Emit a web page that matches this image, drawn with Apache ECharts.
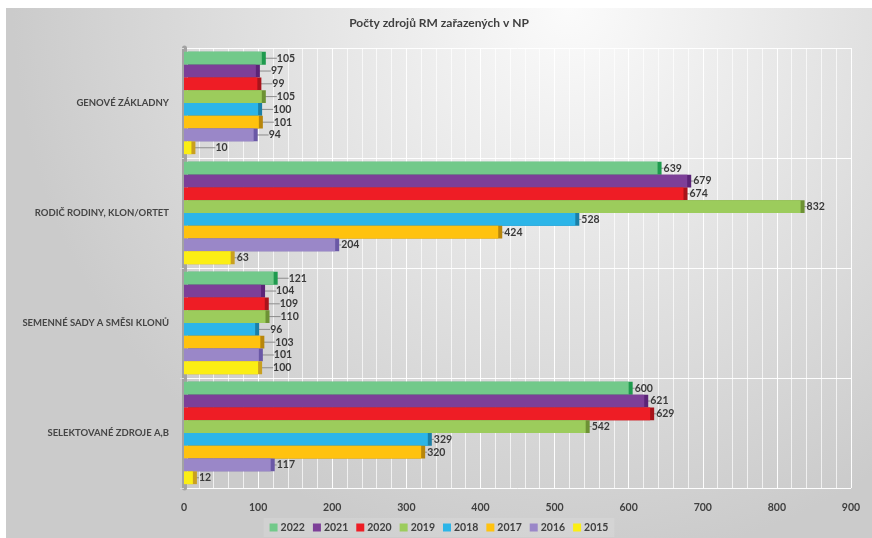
<!DOCTYPE html>
<html>
<head>
<meta charset="utf-8">
<script src="https://cdn.jsdelivr.net/npm/echarts@6/dist/echarts.min.js"></script>
<style>
  html, body { margin: 0; padding: 0; background: #ffffff; overflow: hidden; }
  #chart { position: absolute; left: 6px; top: 8px; width: 866px; height: 530px; }
</style>
</head>
<body>
<div id="chart"></div>
<script>
// Categories (top to bottom)
const categories = [
  'GENOVÉ ZÁKLADNY',
  'RODIČ RODINY, KLON/ORTET',
  'SEMENNÉ SADY A SMĚSI KLONŮ',
  'SELEKTOVANÉ ZDROJE A,B'
];

// Years, drawn top to bottom inside each group
const years = ['2022', '2021', '2020', '2019', '2018', '2017', '2016', '2015'];

// Counts per year, in category order
const v2022 = [105, 639, 121, 600];
const v2021 = [97, 679, 104, 621];
const v2020 = [99, 674, 109, 629];
const v2019 = [105, 832, 110, 542];
const v2018 = [100, 528, 96, 329];
const v2017 = [101, 424, 103, 320];
const v2016 = [94, 204, 101, 117];
const v2015 = [10, 63, 100, 12];

const xTicks = [0, 100, 200, 300, 400, 500, 600, 700, 800, 900];

const seriesValues = [v2022, v2021, v2020, v2019, v2018, v2017, v2016, v2015];

const fills = ['#72c98a', '#7d3f98', '#ee1d25', '#9ccc5c', '#2cb5e8', '#ffc20f', '#9a87c8', '#fbee14'];
const sides = ['#1f9a4e', '#5b2477', '#a8141b', '#6d9234', '#1b7fa6', '#b8860b', '#6a58a6', '#c9a020'];

const chart = echarts.init(document.getElementById('chart'), null, { renderer: 'canvas' });

const series = years.map((y, i) => ({
  name: y,
  type: 'bar',
  data: seriesValues[i],
  barGap: '0%',
  barCategoryGap: '7%',
  itemStyle: {
    color: fills[i],
    borderWidth: 0,
    // darker strip on the right end gives the bars a bit of depth
    shadowColor: sides[i],
    shadowOffsetX: 4,
    shadowOffsetY: 0,
    shadowBlur: 0
  },
  label: {
    show: true,
    position: 'right',
    distance: 6,
    color: '#3a3a3a',
    fontFamily: 'Lato',
    fontWeight: 'bold',
    fontSize: 10.5
  },
  labelLine: {
    show: true,
    lineStyle: { color: '#8c8c8c', width: 1 }
  },
  labelLayout: function (p) {
    // short leader lines for the narrow groups
    const v = seriesValues[p.seriesIndex][p.dataIndex];
    if (p.dataIndex === 0 && v < 50) return { dx: 18 };
    if (p.dataIndex === 0 || p.dataIndex === 2) return { dx: 9 };
    return {};
  },
  emphasis: { disabled: true },
  animation: false
}));

const option = {
  animation: false,
  backgroundColor: {
    type: 'radial',
    x: 0.65, y: 0.0, r: 1.05,
    colorStops: [
      { offset: 0, color: '#fbfbfb' },
      { offset: 0.45, color: '#e5e5e5' },
      { offset: 1, color: '#cbcbcb' }
    ]
  },
  title: {
    text: 'Počty zdrojů RM zařazených v NP',
    left: 'center',
    top: 4,
    textStyle: {
      fontFamily: 'Lato',
      fontWeight: 'bold',
      fontSize: 12,
      color: '#404040'
    }
  },
  legend: {
    data: years,
    bottom: 1,
    left: 'center',
    itemWidth: 8,
    itemHeight: 8,
    itemGap: 8,
    icon: 'rect',
    backgroundColor: 'rgba(255,255,255,0.12)',
    padding: [4, 6],
    textStyle: {
      fontFamily: 'Lato',
      fontWeight: 'bold',
      fontSize: 10.5,
      color: '#404040',
      padding: [0, 0, 0, -2]
    }
  },
  grid: {
    left: 178,
    right: 21,
    top: 40,
    bottom: 50,
    containLabel: false
  },
  xAxis: {
    type: 'value',
    min: xTicks[0],
    max: xTicks[xTicks.length - 1],
    interval: 100,
    axisLine: { show: false },
    axisTick: { show: false },
    axisLabel: {
      margin: 14,
      color: '#404040',
      fontFamily: 'Lato',
      fontWeight: 'bold',
      fontSize: 10.5,
      formatter: v => (xTicks.indexOf(v) >= 0 ? String(v) : '')
    },
    splitLine: { show: true, lineStyle: { color: 'rgba(255,255,255,0.95)', width: 1 } },
    minorTick: { show: false, splitNumber: 5 },
    minorSplitLine: { show: true, lineStyle: { color: 'rgba(255,255,255,0.7)', width: 1 } }
  },
  yAxis: {
    type: 'category',
    data: categories,
    inverse: true,
    axisLine: { show: true, lineStyle: { color: '#a3a3a3', width: 5 } },
    axisTick: { show: true, length: 4, lineStyle: { color: '#dddddd' } },
    axisLabel: {
      margin: 15,
      color: '#454545',
      fontFamily: 'Lato',
      fontWeight: 'bold',
      fontSize: 9.5
    },
    splitLine: { show: true, lineStyle: { color: 'rgba(255,255,255,0.95)', width: 1 } }
  },
  series: series
};

chart.setOption(option);
</script>
</body>
</html>
